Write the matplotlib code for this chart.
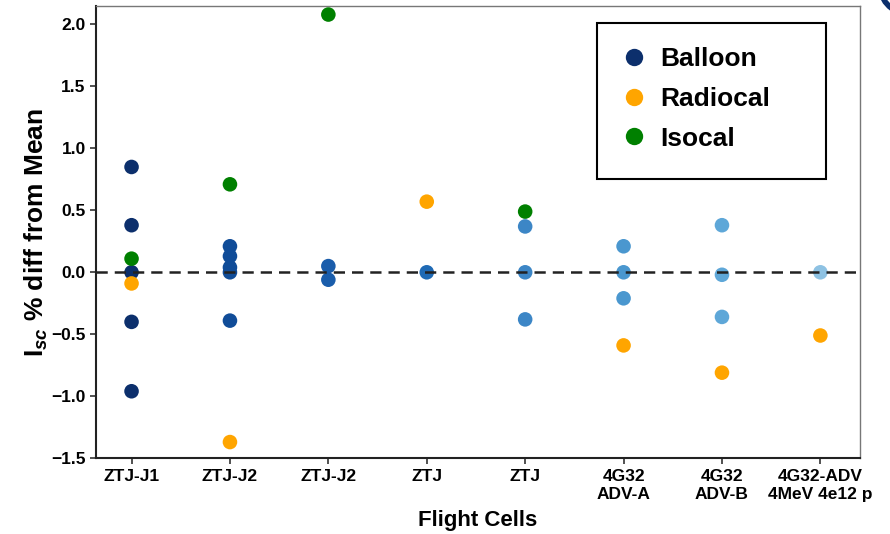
import matplotlib

matplotlib.use("Agg")
import matplotlib.pyplot as plt
import matplotlib.patches as mpatches
from matplotlib.lines import Line2D

plt.rcParams["font.family"] = ["Liberation Sans", "DejaVu Sans"]
plt.rcParams["font.weight"] = "bold"
plt.rcParams["mathtext.fontset"] = "custom"
plt.rcParams["mathtext.rm"] = "Liberation Sans:bold"
plt.rcParams["mathtext.it"] = "Liberation Sans:italic"

CELLS = ["ZTJ-J1", "ZTJ-J2", "ZTJ-J2", "ZTJ", "ZTJ",
         "4G32\nADV-A", "4G32\nADV-B", "4G32-ADV\n4MeV 4e12 p"]

BALLOON = [
    [0.85, 0.38, 0.0, -0.40, -0.96],
    [0.21, 0.13, 0.04, 0.0, -0.39],
    [0.05, -0.06],
    [0.0],
    [0.37, 0.0, -0.38],
    [0.21, 0.0, -0.21],
    [0.38, -0.02, -0.36],
    [0.0],
]
RADIOCAL = [-0.09, -1.37, None, 0.57, None, -0.59, -0.81, -0.51]
ISOCAL = [0.11, 0.71, 2.08, None, 0.49, None, None, None]

BALLOON_COLORS = ["#0c2f6c", "#104c98", "#1a5dab", "#1f6ab5",
                  "#3c86c6", "#4a97cf", "#5ea7d8", "#8ec2e3"]
COLOR_RADIO = "#ffa500"
COLOR_ISO = "#008000"
MS = 110

fig = plt.figure(figsize=(8.9, 5.34), dpi=100)
ax = fig.add_axes([0.108, 0.142, 0.858, 0.847])

for i, vals in enumerate(BALLOON):
    ax.scatter([i] * len(vals), vals, s=MS, color=BALLOON_COLORS[i],
               edgecolors="none", zorder=3)
for i, v in enumerate(RADIOCAL):
    if v is not None:
        ax.scatter([i], [v], s=MS, color=COLOR_RADIO, edgecolors="none", zorder=3)
for i, v in enumerate(ISOCAL):
    if v is not None:
        ax.scatter([i], [v], s=MS, color=COLOR_ISO, edgecolors="none", zorder=3)

ax.axhline(0, color="#222222", linestyle=(0, (4.5, 2.8)), linewidth=1.8, zorder=4)

ax.set_xlim(-0.36, 7.4)
ax.set_ylim(-1.5, 2.15)
ax.set_xticks(range(len(CELLS)))
ax.set_xticklabels(CELLS, fontsize=12.5, fontweight="bold", linespacing=1.25)
ax.set_yticks([-1.5, -1.0, -0.5, 0.0, 0.5, 1.0, 1.5, 2.0])
ax.set_yticklabels(["\u22121.5", "\u22121.0", "\u22120.5", "0.0", "0.5", "1.0", "1.5", "2.0"],
                   fontsize=12.5, fontweight="bold")
ax.tick_params(axis="both", length=4, width=1.2, color="#333333")
for side in ["left", "bottom"]:
    ax.spines[side].set_linewidth(1.5)
    ax.spines[side].set_color("#222222")
for side in ["top", "right"]:
    ax.spines[side].set_linewidth(1.0)
    ax.spines[side].set_color("#777777")

ax.set_xlabel("Flight Cells", fontsize=16, fontweight="bold", labelpad=6)
ax.set_ylabel(r"I$_{\mathit{sc}}$ % diff from Mean", fontsize=19, fontweight="bold", labelpad=1)

handles = [
    Line2D([], [], marker="o", linestyle="none", markersize=12.5,
           markerfacecolor=BALLOON_COLORS[0], markeredgecolor="none", label="Balloon"),
    Line2D([], [], marker="o", linestyle="none", markersize=12.5,
           markerfacecolor=COLOR_RADIO, markeredgecolor="none", label="Radiocal"),
    Line2D([], [], marker="o", linestyle="none", markersize=12.5,
           markerfacecolor=COLOR_ISO, markeredgecolor="none", label="Isocal"),
]
leg = ax.legend(handles=handles, loc="upper left", bbox_to_anchor=(0.684, 0.909),
                prop={"size": 19, "weight": "bold"}, frameon=False,
                labelspacing=0.6, handletextpad=0.4, borderpad=0,
                borderaxespad=0, handlelength=1.2)

# legend box drawn separately: it is wider than its entries
box = mpatches.Rectangle((597 / 890, 1 - 179 / 534), 229 / 890, 156 / 534,
                         transform=fig.transFigure, fill=False,
                         edgecolor="black", linewidth=1.5, zorder=5)
fig.patches.append(box)

# stray slide decoration in the top-right corner
arc = mpatches.Arc((1.03, 1.02), 0.08, 0.1, theta1=180, theta2=270,
                   transform=fig.transFigure, color="#0c2f6c", linewidth=4,
                   clip_on=False)
fig.patches.append(arc)

fig.savefig("out.png", dpi=100)
